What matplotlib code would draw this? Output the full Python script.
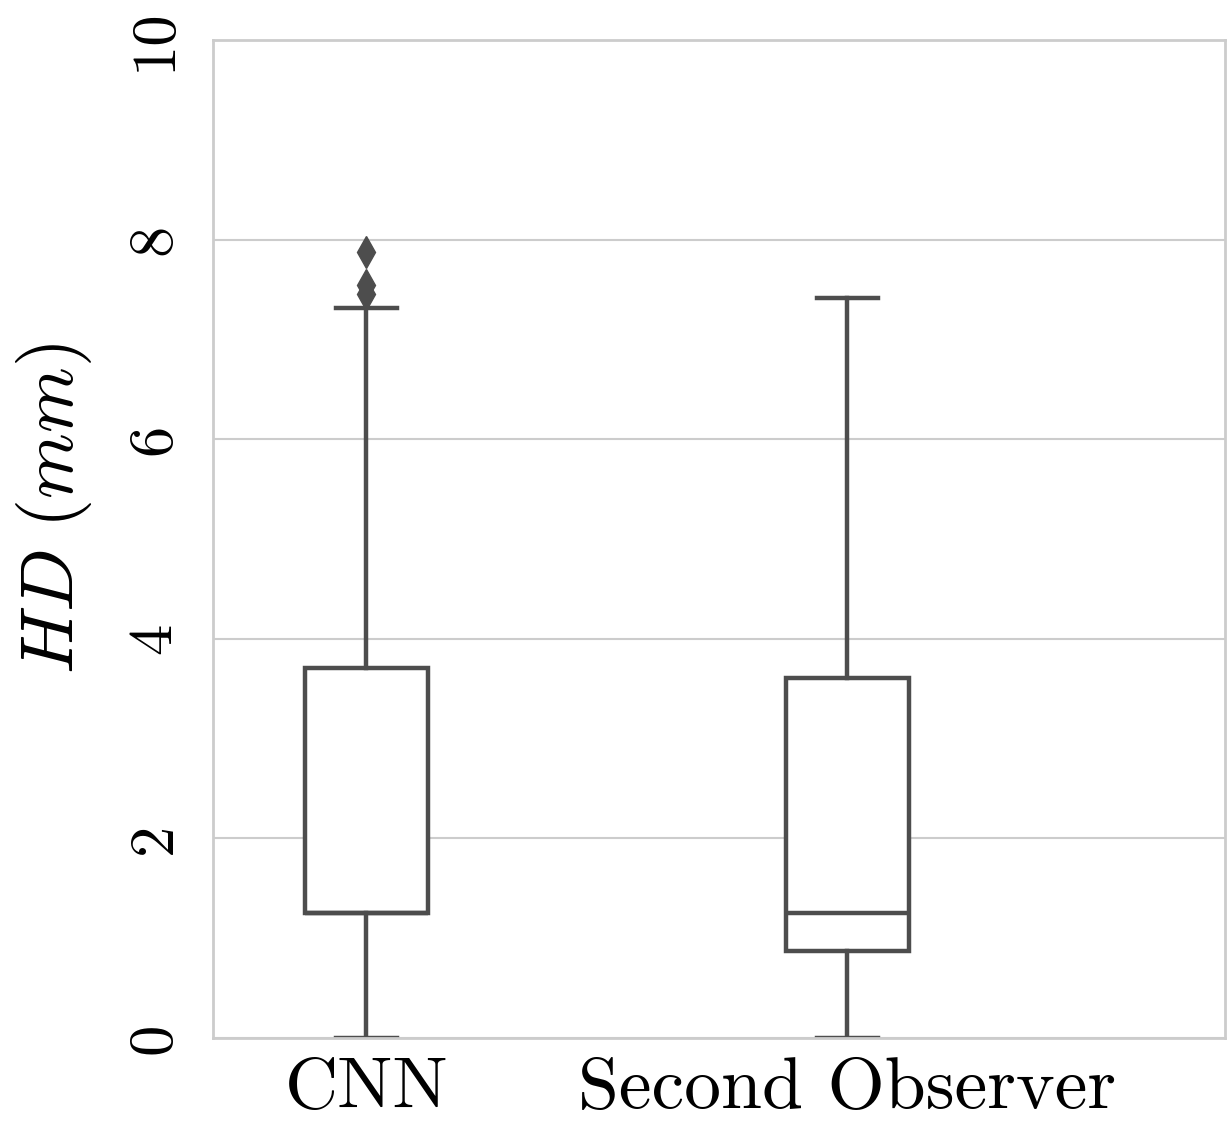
import matplotlib
matplotlib.use("Agg")
import matplotlib.pyplot as plt

# Hausdorff distance summary
groups = ["CNN", "Second Observer"]
whislo = [0.0, 0.0]
q1 = [1.25, 0.87]
med = [1.25, 1.25]
q3 = [3.71, 3.61]
whishi = [7.31, 7.41]
fliers = [[7.88, 7.55, 7.45], []]
yticks = [0, 2, 4, 6, 8, 10]

plt.rcParams["mathtext.fontset"] = "cm"
plt.rcParams["axes.formatter.use_mathtext"] = True
plt.rcParams["font.family"] = ["cmr10", "DejaVu Serif"]

grey = "#4d4d4d"
light = "#cccccc"

fig = plt.figure(figsize=(12.32, 11.27), dpi=100)
ax = fig.add_axes([213 / 1232, 1 - 1038 / 1127, 1012 / 1232, 998 / 1127])

stats = []
for i, name in enumerate(groups):
    stats.append({"label": name, "whislo": whislo[i], "q1": q1[i], "med": med[i],
                  "q3": q3[i], "whishi": whishi[i], "fliers": fliers[i]})

lw = 3.2
ax.bxp(stats, positions=[0, 1], widths=0.256, patch_artist=True,
       boxprops=dict(facecolor="white", edgecolor=grey, linewidth=lw),
       medianprops=dict(color=grey, linewidth=lw),
       whiskerprops=dict(color=grey, linewidth=lw),
       capprops=dict(color=grey, linewidth=lw),
       flierprops=dict(marker="d", markerfacecolor=grey, markeredgecolor=grey,
                       markersize=16, linestyle="none"))

ax.set_xlim(-0.319, 1.785)
ax.set_ylim(0, 10)
ax.set_yticks(yticks)
ax.set_yticklabels([str(t) for t in yticks], rotation=90, va="center", fontsize=45)
ax.set_xticks([0, 1])
ax.set_xticklabels(groups, fontsize=53)
ax.tick_params(axis="both", length=0)
ax.tick_params(axis="y", pad=22)
ax.tick_params(axis="x", pad=14)

ax.yaxis.grid(True, color=light, linewidth=1.5)
ax.set_axisbelow(True)
for s in ax.spines.values():
    s.set_color(light)
    s.set_linewidth(2)

ax.set_ylabel(r"$HD\ (mm)$", fontsize=54)
ax.yaxis.set_label_coords(-0.118, 0.53)

fig.savefig("out.png", dpi=100, facecolor="white")
